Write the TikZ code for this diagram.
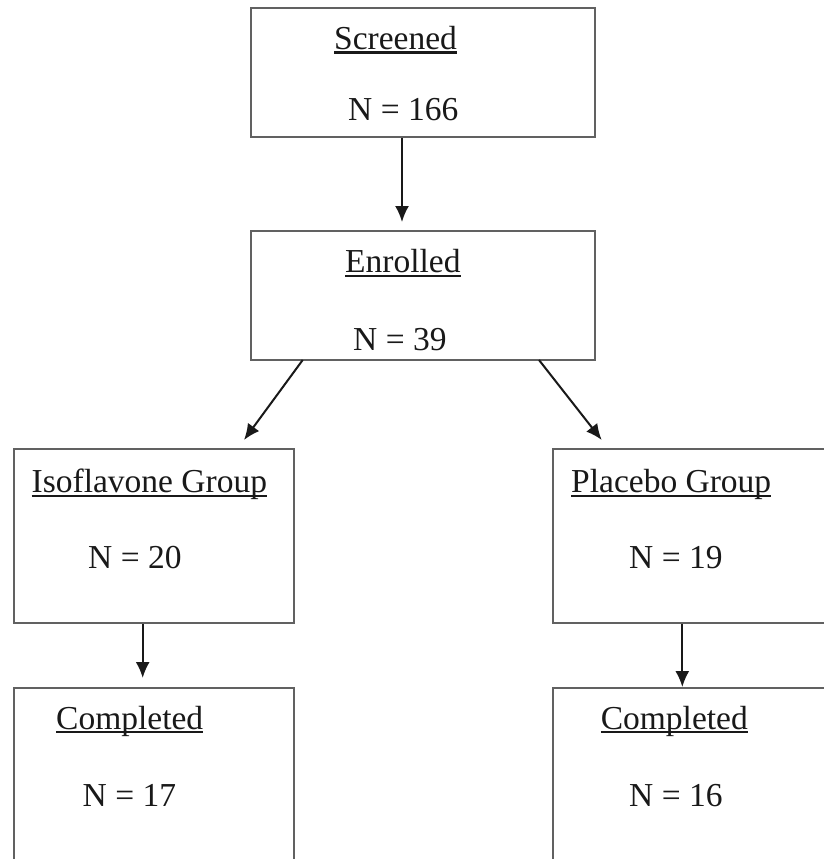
\documentclass[tikz,border=0pt]{standalone}
\usepackage{fontspec}
\setmainfont{Liberation Serif}
\usetikzlibrary{arrows.meta}
\newsavebox\myulbox
\newcommand{\myul}[1]{\sbox\myulbox{#1}\rlap{\usebox\myulbox}\rule[-4.4pt]{\wd\myulbox}{2.2pt}}
\begin{document}
\begin{tikzpicture}[x=1pt,y=-1pt,
  boxnode/.style={draw=black!62,line width=1.9pt,fill=none,inner sep=0pt,rectangle},
  lbl/.style={anchor=base west,inner sep=0pt,text=black!90,font=\fontsize{33.5}{40}\selectfont},
  arr/.style={draw=black!90,line width=2pt,-{Latex[length=16pt,width=14pt]}}]
\clip (0,0) rectangle (824,859);
\fill[white] (0,0) rectangle (824,859);
% boxes
\node[boxnode,minimum width=344pt,minimum height=129pt] (scr) at (423,72.5) {};
\node[boxnode,minimum width=344pt,minimum height=129pt] (enr) at (423,295.5) {};
\node[boxnode,minimum width=280pt,minimum height=174pt] (iso) at (154,536) {};
\node[boxnode,minimum width=280pt,minimum height=174pt] (pla) at (693,536) {};
\node[boxnode,minimum width=280pt,minimum height=224pt] (cl) at (154,800) {};
\node[boxnode,minimum width=280pt,minimum height=224pt] (cr) at (693,800) {};
% texts
\node[lbl] (t1) at (334,49.3) {\myul{Screened}};
\node[lbl] (t2) at (348,120) {N = 166};
\node[lbl] (t3) at (345,272.7) {\myul{Enrolled}};
\node[lbl] (t4) at (353,350) {N = 39};
\node[lbl] (t5) at (31.5,492.7) {\myul{Isoflavone Group}};
\node[lbl] (t6) at (88,568) {N = 20};
\node[lbl] (t7) at (571,492.7) {\myul{Placebo Group}};
\node[lbl] (t8) at (629,568) {N = 19};
\node[lbl] (t9) at (56,729) {\myul{Completed}};
\node[lbl] (t10) at (82.5,806.7) {N = 17};
\node[lbl] (t11) at (600.6,729) {\myul{Completed}};
\node[lbl] (t12) at (629,806.7) {N = 16};
% connector end points
\coordinate (a1) at (402,222);
\coordinate (a2s) at (302.7,360);
\coordinate (a2) at (244,440);
\coordinate (a3s) at (539,360);
\coordinate (a3) at (601.7,440);
\coordinate (a4) at (142.7,678);
\coordinate (a5) at (682.3,688);
% connectors
\draw[arr] (scr.south -| a1) -- (a1);
\draw[arr] (a2s) -- (a2);
\draw[arr] (a3s) -- (a3);
\draw[arr] (iso.south -| a4) -- (a4);
\draw[arr] (pla.south -| a5) -- (cr.north -| a5);
\end{tikzpicture}
\end{document}
